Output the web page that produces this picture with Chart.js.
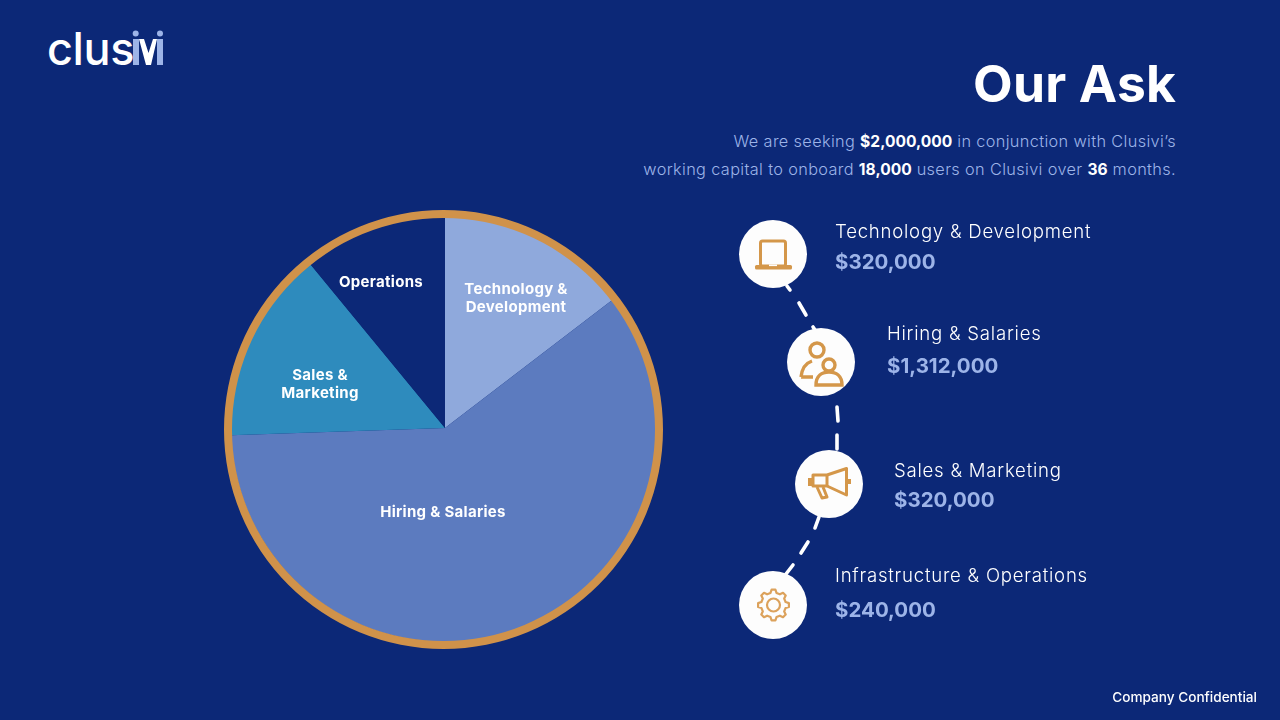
<!DOCTYPE html>
<html>
<head>
<meta charset="utf-8">
<title>Our Ask</title>
<script src="https://cdn.jsdelivr.net/npm/chart.js@4"></script>
<style>
  html, body { margin: 0; padding: 0; }
  body { width: 1280px; height: 720px; background: #0c2877; overflow: hidden; position: relative; font-family: Inter, "Open Sans", sans-serif; color: #fff; }
  .abs { position: absolute; white-space: nowrap; }
  #pie-box { position: absolute; left: 231px; top: 214px; width: 428px; height: 428px; }
  #ring-box { position: absolute; left: 224px; top: 210px; width: 439px; height: 439px; }
  #title { right: 104px; top: 53px; font-size: 51.5px; line-height: 60px; font-weight: 700; letter-spacing: 0.2px; }
  .intro { right: 104px; font-size: 16.3px; line-height: 24px; color: #9db4e8; font-weight: 300; letter-spacing: 0.36px; }
  .intro b { color: #fff; font-weight: 700; font-size: 15.6px; letter-spacing: 0; }
  .pie-label { font-size: 15px; line-height: 18px; font-weight: 700; text-align: center; transform: translateX(-50%); letter-spacing: 0.3px; }
  .item-name { font-size: 18.6px; line-height: 24px; font-weight: 300; letter-spacing: 0.76px; }
  .item-value { font-size: 20.5px; line-height: 28px; font-weight: 700; color: #9db4e8; }
  #confidential { right: 23px; top: 688px; font-size: 13.6px; line-height: 18px; font-weight: 500; }
  #logo { position: absolute; left: 46px; top: 28px; }
  #deco { position: absolute; left: 0; top: 0; }
</style>
</head>
<body>

<svg id="logo" width="122" height="42" viewBox="46 28 122 42">
  <text x="47" y="65" font-family="Inter, sans-serif" font-size="45" font-weight="500" fill="#fff" letter-spacing="-0.4">clus</text>
  <circle cx="135.7" cy="33.5" r="3" fill="#9db4e8"/>
  <circle cx="160" cy="33.5" r="3" fill="#9db4e8"/>
  <rect x="133" y="39" width="6" height="26" fill="#9db4e8"/>
  <rect x="157" y="39" width="6" height="26" fill="#9db4e8"/>
  <path d="M139 39 L144 39 L148.5 53 L153 39 L157 39 L151 65 L146 65 Z" fill="#fff"/>
</svg>

<div class="abs" id="title">Our Ask</div>
<div class="abs intro" style="top:129px">We are seeking <b>$2,000,000</b> in conjunction with Clusivi’s</div>
<div class="abs intro" style="top:157px">working capital to onboard <b>18,000</b> users on Clusivi over <b>36</b> months.</div>

<div id="pie-box"><canvas id="askChart" width="428" height="428"></canvas></div>
<div id="ring-box"><canvas id="ringChart" width="439" height="439"></canvas></div>

<svg id="deco" width="1280" height="720" viewBox="0 0 1280 720">
  <g stroke="#fff" stroke-width="3.6" stroke-linecap="round">
    <line x1="787" y1="286" x2="790" y2="290"/>
    <line x1="799" y1="303" x2="806" y2="315"/>
    <line x1="813" y1="327" x2="815" y2="330"/>
    <line x1="837" y1="407" x2="838" y2="421"/>
    <line x1="837" y1="435" x2="837" y2="449"/>
    <line x1="819" y1="517" x2="815" y2="528"/>
    <line x1="808" y1="542" x2="801" y2="553"/>
    <line x1="793" y1="565" x2="786" y2="574"/>
  </g>
  <g fill="#fdfdfd">
    <circle cx="773" cy="254" r="34"/>
    <circle cx="821" cy="362" r="34"/>
    <circle cx="829" cy="484" r="34"/>
    <circle cx="773" cy="605" r="34"/>
  </g>
  <!-- laptop -->
  <rect x="760.5" y="241" width="25" height="25" rx="2" fill="none" stroke="#d4974a" stroke-width="3"/>
  <rect x="755" y="265" width="37" height="4.5" rx="1.5" fill="#d4974a"/>
  <rect x="769" y="264.5" width="8" height="1.6" fill="#fdfdfd"/>
  <!-- people -->
  <g fill="none" stroke="#d4974a" stroke-width="3.4">
    <circle cx="817" cy="350" r="7"/>
    <path d="M801 377 C802 368 806 363 812 361 M801 377 L813 377"/>
    <circle cx="829" cy="365" r="6"/>
    <path d="M816 385 C816 376 822 372 829 372 C836 372 842 376 842 385 Z"/>
  </g>
  <!-- megaphone -->
  <g fill="none" stroke="#d4974a" stroke-width="3" stroke-linejoin="round">
    <path d="M813 475 L827 475 L846.5 468.5 L846.5 495 L827 486 L813 486 Z"/>
    <line x1="827" y1="475" x2="827" y2="486"/>
    <path d="M817 487 L822 498 L827 497 L823 487"/>
  </g>
  <rect x="808" y="478" width="5" height="8" fill="#d4974a"/>
  <rect x="848" y="479" width="3" height="5" fill="#d4974a"/>
  <!-- gear -->
  <path id="gear" fill="none" stroke="#dca25c" stroke-width="2.2" stroke-linejoin="round"/>
  <circle cx="773.5" cy="605" r="6.5" fill="none" stroke="#dca25c" stroke-width="2.2"/>
</svg>

<div class="abs pie-label" style="left:381px;top:273px">Operations</div>
<div class="abs pie-label" style="left:516px;top:280px">Technology &amp;<br>Development</div>
<div class="abs pie-label" style="left:320px;top:366px">Sales &amp;<br>Marketing</div>
<div class="abs pie-label" style="left:443px;top:503px">Hiring &amp; Salaries</div>

<div class="abs item-name" style="left:835px;top:219px">Technology &amp; Development</div>
<div class="abs item-value" style="left:835px;top:248px">$320,000</div>
<div class="abs item-name" style="left:887px;top:321px">Hiring &amp; Salaries</div>
<div class="abs item-value" style="left:887px;top:352px">$1,312,000</div>
<div class="abs item-name" style="left:894px;top:458px">Sales &amp; Marketing</div>
<div class="abs item-value" style="left:894px;top:486px">$320,000</div>
<div class="abs item-name" style="left:835px;top:563px">Infrastructure &amp; Operations</div>
<div class="abs item-value" style="left:835px;top:596px">$240,000</div>

<div class="abs" id="confidential">Company Confidential</div>

<script>
// Chart data
const categories = ['Technology & Development', 'Hiring & Salaries', 'Sales & Marketing', 'Operations'];
const amounts = [320000, 1312000, 320000, 240000];
const sliceColors = ['#8fa9dc', '#5c7bbf', '#2e8bbd', '#0c2877'];
const ringAmount = [2192000];

function renderAskChart() {
  new Chart(document.getElementById('askChart').getContext('2d'), {
    type: 'pie',
    data: {
      labels: categories,
      datasets: [{ data: amounts, backgroundColor: sliceColors, borderWidth: 0 }]
    },
    options: {
      responsive: false,
      animation: false,
      plugins: { legend: { display: false }, tooltip: { enabled: false } }
    }
  });
}

// Orange ring sits on its own canvas, slightly off centre from the pie
function renderRing() {
  new Chart(document.getElementById('ringChart').getContext('2d'), {
    type: 'doughnut',
    data: {
      labels: ['Total'],
      datasets: [{ data: ringAmount, backgroundColor: ['#d0924a'], borderWidth: 0 }]
    },
    options: {
      responsive: false,
      animation: false,
      cutout: 211.5,
      plugins: { legend: { display: false }, tooltip: { enabled: false } }
    }
  });
}

// Gear icon outline: 8 teeth around the centre
function drawGear() {
  const cx = 773.5, cy = 605, teeth = 8;
  const pts = [];
  for (let i = 0; i < teeth; i++) {
    const a = (i / teeth) * Math.PI * 2;
    const step = Math.PI / teeth;
    pts.push([a - step * 0.62, 12.5], [a - step * 0.32, 15.5], [a + step * 0.32, 15.5], [a + step * 0.62, 12.5]);
  }
  const d = pts.map((p, i) => (i ? 'L' : 'M') + (cx + Math.sin(p[0]) * p[1]).toFixed(1) + ' ' + (cy - Math.cos(p[0]) * p[1]).toFixed(1)).join(' ') + ' Z';
  document.getElementById('gear').setAttribute('d', d);
}

renderAskChart();
renderRing();
drawGear();
</script>
</body>
</html>
